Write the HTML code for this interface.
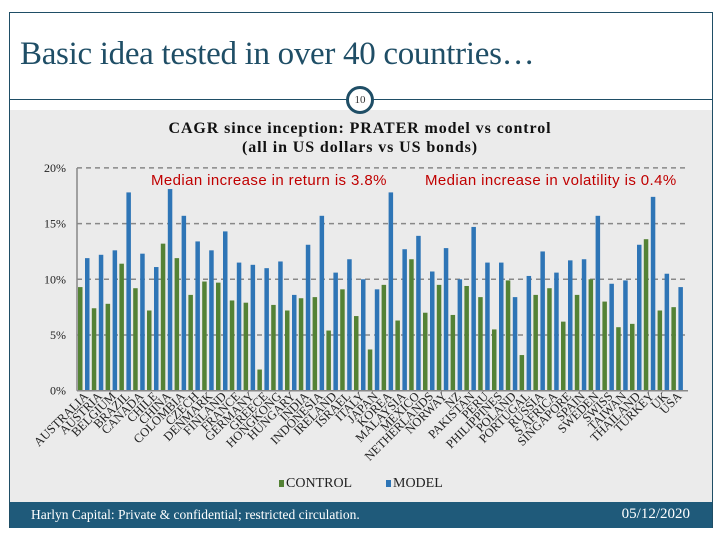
<!DOCTYPE html>
<html><head><meta charset="utf-8"><style>
body{margin:0;width:720px;height:540px;background:#fff;position:relative;overflow:hidden;font-family:"Liberation Serif",serif}
</style></head><body>
<div style="position:absolute;left:9px;top:12px;width:704px;height:516px;border:1px solid #1f4e66;box-sizing:border-box"></div>
<div style="position:absolute;left:10px;top:110px;width:702px;height:392px;background:#ebebeb"></div>
<div style="position:absolute;left:20px;top:36px;font-size:33px;color:#1f4e66;letter-spacing:-0.3px">Basic idea tested in over 40 countries…</div>
<div style="position:absolute;left:10px;top:99px;width:702px;height:1px;background:#1f4e66"></div>
<div style="position:absolute;left:346px;top:86px;width:22px;height:22px;border:3px solid #1f4e66;border-radius:50%;background:#fff;text-align:center;line-height:22px;font-size:11px;color:#333">10</div>
<div style="position:absolute;left:10px;top:502px;width:702px;height:26px;background:#1f5a7a"></div>
<div style="position:absolute;left:31px;top:507px;font-size:13.5px;color:#fff">Harlyn Capital: Private &amp; confidential; restricted circulation.</div>
<div style="position:absolute;right:30px;top:506px;font-size:15px;color:#fff">05/12/2020</div>
<svg id="chart" width="720" height="540" style="position:absolute;left:0;top:0"></svg>
<script>
const categories=["AUSTRALIA","AUSTRIA","BELGIUM","BRAZIL","CANADA","CHILE","CHINA","COLOMBIA","CZECH","DENMARK","FINLAND","FRANCE","GERMANY","GREECE","HONGKONG","HUNGARY","INDIA","INDONESIA","IRELAND","ISRAEL","ITALY","JAPAN","KOREA","MALAYSIA","MEXICO","NETHERLANDS","NORWAY","NZ","PAKISTAN","PERU","PHILIPPINES","POLAND","PORTUGAL","RUSSIA","S AFRICA","SINGAPORE","SPAIN","SWEDEN","SWISS","TAIWAN","THAILAND","TURKEY","UK","USA"];
const control=[9.3,7.4,7.8,11.4,9.2,7.2,13.2,11.9,8.6,9.8,9.7,8.1,7.9,1.9,7.7,7.2,8.3,8.4,5.4,9.1,6.7,3.7,9.5,6.3,11.8,7.0,9.5,6.8,9.4,8.4,5.5,9.9,3.2,8.6,9.2,6.2,8.6,10.0,8.0,5.7,6.0,13.6,7.2,7.5];
const model=[11.9,12.2,12.6,17.8,12.3,11.1,18.1,15.7,13.4,12.6,14.3,11.5,11.3,11.0,11.6,8.6,13.1,15.7,10.6,11.8,10.0,9.1,17.8,12.7,13.9,10.7,12.8,10.0,14.7,11.5,11.5,8.4,10.3,12.5,10.6,11.7,11.8,15.7,9.6,9.9,13.1,17.4,10.5,9.3];
const yTicks=[0,5,10,15,20];
const NS="http://www.w3.org/2000/svg";
const svg=document.getElementById('chart');
const y0=390.7,yPer=55.7/5,x0=80,step=13.8;
const yS=v=>y0-v*yPer;
const xS=i=>x0+i*step;
function mk(t,a){const e=document.createElementNS(NS,t);for(const k in a)e.setAttribute(k,a[k]);svg.appendChild(e);return e;}
yTicks.forEach(t=>{
  if(t>0){const g=mk('line',{x1:77,x2:688,y1:yS(t),y2:yS(t),stroke:'#888','stroke-width':1.5,'stroke-dasharray':'5,4'});
  
  }
  const l=mk('text',{x:66,y:yS(t)+4,'text-anchor':'end','font-size':12,fill:'#222','font-family':'Liberation Serif,serif'});
  l.textContent=t+'%';
  
  
});
const ax=mk('line',{x1:77,x2:77,y1:168,y2:y0,stroke:'#888','stroke-width':1.5});


categories.forEach((c,i)=>{
  const g=mk('rect',{x:xS(i)-2,y:yS(control[i]),width:4.5,height:control[i]*yPer,fill:'#548235'});
  
  
  const b=mk('rect',{x:xS(i)+5,y:yS(model[i]),width:4.5,height:model[i]*yPer,fill:'#2e75b6'});
  
  
  const tx=xS(i)+9,ty=397;
  const t=mk('text',{x:tx,y:ty,'text-anchor':'end','font-size':12.5,fill:'#222','font-family':'Liberation Serif,serif',transform:`rotate(-45 ${tx} ${ty})`});
  t.textContent=c;
  
  
});
const xa=mk('line',{x1:77,x2:688,y1:y0,y2:y0,stroke:'#888','stroke-width':1.5});


</script>
<div style="position:absolute;left:0;width:720px;top:119px;text-align:center;font-size:16px;font-weight:bold;color:#111;line-height:19px;letter-spacing:0.9px">CAGR since inception: PRATER model vs control<br>(all in US dollars vs US bonds)</div>
<div style="position:absolute;left:151px;top:172px;font-family:'Liberation Sans',sans-serif;font-size:15px;color:#c00000;letter-spacing:0.4px">Median increase in return is 3.8%</div>
<div style="position:absolute;left:425px;top:172px;font-family:'Liberation Sans',sans-serif;font-size:15px;color:#c00000;letter-spacing:0.4px">Median increase in volatility is 0.4%</div>
<div style="position:absolute;left:279px;top:476px;font-size:14px;color:#222"><span style="display:inline-block;width:5px;height:7px;background:#548235;margin-right:2px"></span>CONTROL</div>
<div style="position:absolute;left:386px;top:476px;font-size:14px;color:#222"><span style="display:inline-block;width:5px;height:7px;background:#2e75b6;margin-right:2px"></span>MODEL</div>
</body></html>
